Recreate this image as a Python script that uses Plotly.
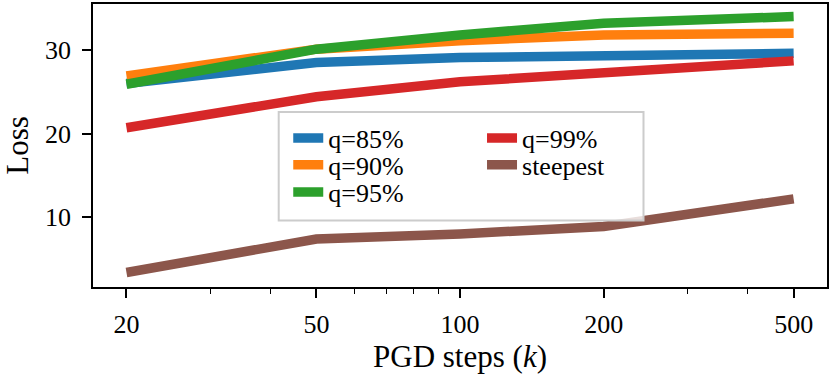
import plotly.graph_objects as go

steps = [20, 50, 100, 200, 500]
loss_q85 = [26.0, 28.5, 29.1, 29.4, 29.6]
loss_q90 = [26.9, 30.1, 31.1, 31.8, 32.0]
loss_q95 = [25.9, 30.1, 31.8, 33.2, 34.0]
loss_q99 = [20.7, 24.4, 26.2, 27.2, 28.7]
loss_steepest = [3.4, 7.4, 8.0, 8.9, 12.2]

x_ticks = [20, 50, 100, 200, 500]
x_minor = [30, 40, 60, 70, 80, 90, 300, 400]
y_ticks = [10, 20, 30]

# name, values, colour, legend slot (column, row)
series = [
    ("q=85%", loss_q85, "#1f77b4", (0, 0)),
    ("q=90%", loss_q90, "#ff7f0e", (0, 1)),
    ("q=95%", loss_q95, "#2ca02c", (0, 2)),
    ("q=99%", loss_q99, "#d62728", (1, 0)),
    ("steepest", loss_steepest, "#8c564b", (1, 1)),
]

FONT = "Liberation Serif, DejaVu Serif, serif"
col_x = [0.266, 0.530]
row_y = [0.526, 0.432, 0.335]

fig = go.Figure()
legends = {}
for i, (name, vals, color, (col, row)) in enumerate(series):
    key = "legend" if i == 0 else "legend%d" % (i + 1)
    fig.add_trace(go.Scatter(
        x=steps, y=vals, mode="lines", name=name,
        line=dict(color=color, width=9.5),
        legend=key,
    ))
    legends[key] = dict(
        x=col_x[col], y=row_y[row], xanchor="left", yanchor="middle",
        bgcolor="rgba(0,0,0,0)", borderwidth=0,
        font=dict(family=FONT, size=26, color="black"),
    )

axis_common = dict(
    showline=True, linecolor="black", linewidth=1.8, mirror=True,
    ticks="outside", ticklen=9, tickwidth=1.8, tickcolor="black",
    showgrid=False, zeroline=False,
    tickfont=dict(family=FONT, size=26, color="black"),
)

fig.update_layout(
    width=831, height=382,
    margin=dict(l=93, r=2, t=2, b=95),
    plot_bgcolor="white", paper_bgcolor="white",
    font=dict(family=FONT, color="black"),
    xaxis=dict(
        type="log", range=[1.2309, 2.7689],
        tickvals=x_ticks, ticktext=[str(v) for v in x_ticks],
        ticklabelstandoff=4,
        minor=dict(ticks="outside", ticklen=5, tickwidth=1.3, tickcolor="black",
                   tickvals=x_minor),
        title=dict(text="PGD steps (<i>k</i>)", font=dict(family=FONT, size=31), standoff=6),
        **axis_common,
    ),
    yaxis=dict(
        range=[1.66, 35.5], tickvals=y_ticks,
        ticklabelstandoff=6,
        title=dict(text="Loss", font=dict(family=FONT, size=31), standoff=8),
        **axis_common,
    ),
    shapes=[dict(
        type="rect", xref="paper", yref="paper", layer="above",
        x0=0.253, x1=0.75, y0=0.235, y1=0.618,
        line=dict(color="#cccccc", width=2),
        fillcolor="rgba(255,255,255,0.8)",
    )],
    showlegend=True,
    **legends,
)

fig.write_html("out.html", config={"displayModeBar": False},
               post_script="document.body.style.margin='0';")
